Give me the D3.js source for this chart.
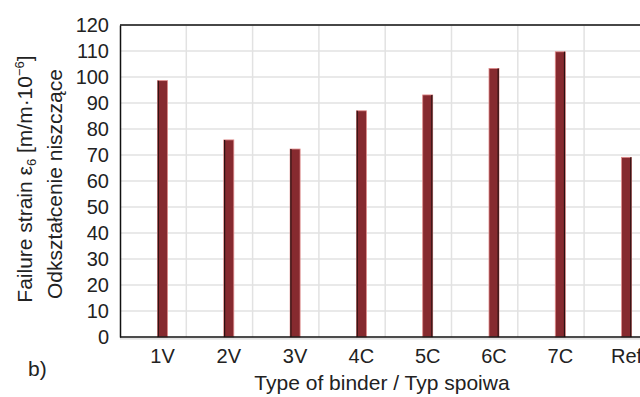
<!DOCTYPE html>
<html>
<head>
<meta charset="utf-8">
<script src="https://cdnjs.cloudflare.com/ajax/libs/d3/7.8.5/d3.min.js"></script>
<style>
body { margin: 0; background: #fff; }
svg { display: block; font-family: "Liberation Sans", Arial, sans-serif; }
.tick text { fill: #222; }
</style>
</head>
<body>
<svg width="640" height="397"></svg>
<script>
// data
var binders = ["1V", "2V", "3V", "4C", "5C", "6C", "7C", "Ref"];
var strain = [98.6, 75.8, 72.3, 87.0, 93.1, 103.3, 109.7, 69.1];
var yTicks = [0, 10, 20, 30, 40, 50, 60, 70, 80, 90, 100, 110, 120];

var svg = d3.select("svg");

var y = d3.scaleLinear().domain([0, 120]).range([337, 25]);
var x = d3.scaleBand().domain(binders).range([129.35, 659.75]);
var gx = d3.scaleLinear().domain([0, 8]).range([120, 650.4]);

// grid
svg.append("g").selectAll("line.h")
  .data(yTicks.slice(1))
  .enter().append("line")
    .attr("x1", 120).attr("x2", 640)
    .attr("y1", function(d) { return y(d); })
    .attr("y2", function(d) { return y(d); })
    .attr("stroke", "#e2e2e2").attr("stroke-width", 1.5);

svg.append("g").selectAll("line.v")
  .data(d3.range(1, 9))
  .enter().append("line")
    .attr("x1", function(d) { return gx(d); })
    .attr("x2", function(d) { return gx(d); })
    .attr("y1", 25).attr("y2", 337)
    .attr("stroke", "#e2e2e2").attr("stroke-width", 1.5);

// bars
var bw = 10;
svg.append("g").selectAll("rect")
  .data(strain)
  .enter().append("rect")
    .attr("x", function(d, i) { return x(binders[i]) + x.bandwidth() / 2 - bw / 2; })
    .attr("y", function(d) { return y(d); })
    .attr("width", bw)
    .attr("height", function(d) { return y(0) - y(d); })
    .attr("fill", "#862a2f")
    .attr("stroke", "#e08a8a")
    .attr("stroke-width", 0.8);

// dark edge on each bar
svg.append("g").selectAll("line")
  .data(strain)
  .enter().append("line")
    .attr("x1", function(d, i) { var c = x(binders[i]) + x.bandwidth() / 2; return i < 4 ? c - bw / 2 + 0.8 : c + bw / 2 - 0.8; })
    .attr("x2", function(d, i) { var c = x(binders[i]) + x.bandwidth() / 2; return i < 4 ? c - bw / 2 + 0.8 : c + bw / 2 - 0.8; })
    .attr("y1", function(d) { return y(d); })
    .attr("y2", y(0))
    .attr("stroke", "#2a1010").attr("stroke-width", 1.2);

// frame
svg.append("line").attr("x1", 120).attr("x2", 640).attr("y1", 25).attr("y2", 25)
  .attr("stroke", "#111").attr("stroke-width", 1.5);

var yAxis = d3.axisLeft(y).tickValues(yTicks).tickSize(0).tickPadding(11);
svg.append("g")
  .attr("transform", "translate(120,0)")
  .call(yAxis)
  .call(function(g) {
    g.select(".domain").attr("stroke", "#111").attr("stroke-width", 1.5);
    g.selectAll("text").attr("font-size", 20).attr("font-family", "Liberation Sans, Arial, sans-serif");
  });

var xAxis = d3.axisBottom(x).tickSize(0).tickPadding(12);
svg.append("g")
  .attr("transform", "translate(0,337)")
  .call(xAxis)
  .call(function(g) {
    g.select(".domain").remove();
    g.selectAll("text").attr("font-size", 20).attr("font-family", "Liberation Sans, Arial, sans-serif");
  });

svg.append("line").attr("x1", 120).attr("x2", 640).attr("y1", 337).attr("y2", 337)
  .attr("stroke", "#111").attr("stroke-width", 1.5);
svg.append("line").attr("x1", 120).attr("x2", 640).attr("y1", 338.8).attr("y2", 338.8)
  .attr("stroke", "#d8d8d8").attr("stroke-width", 1.2);

// titles
svg.append("text")
  .attr("x", 382).attr("y", 390)
  .attr("text-anchor", "middle")
  .attr("font-size", 21)
  .attr("fill", "#222")
  .text("Type of binder / Typ spoiwa");

var t1 = svg.append("text")
  .attr("transform", "translate(32,179) rotate(-90)")
  .attr("text-anchor", "middle")
  .attr("font-size", 21)
  .attr("fill", "#222");
t1.append("tspan").text("Failure strain ε");
t1.append("tspan").attr("font-size", 13).attr("dy", 4).text("6");
t1.append("tspan").attr("dy", -4).text(" [m/m·10");
t1.append("tspan").attr("font-size", 13).attr("dy", -8).text("−6");
t1.append("tspan").attr("dy", 8).text("]");

svg.append("text")
  .attr("transform", "translate(62,184) rotate(-90)")
  .attr("text-anchor", "middle")
  .attr("font-size", 21)
  .attr("fill", "#222")
  .text("Odkształcenie niszczące");

svg.append("text")
  .attr("x", 28).attr("y", 376)
  .attr("font-size", 21)
  .attr("fill", "#222")
  .text("b)");
</script>
</body>
</html>
